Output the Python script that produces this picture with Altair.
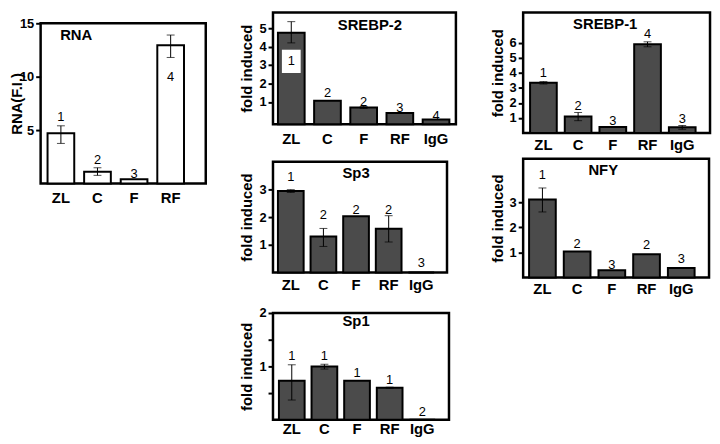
import altair as alt
import pandas as pd

FONT = "Liberation Sans"
DARK = "#4b4b4b"

cats4 = ["ZL", "C", "F", "RF"]
cats5 = ["ZL", "C", "F", "RF", "IgG"]

# RNA panel
rna_val = [4.7, 1.1, 0.4, 12.95]
rna_lo = [3.75, 0.76, None, 11.8]
rna_hi = [5.4, 1.47, None, 13.9]
rna_lab = ["1", "2", "3", "4"]
rna_lab_y = [6.2, 2.15, 0.9, 10.0]

# SREBP-2 panel
s2_val = [4.75, 1.07, 0.7, 0.4, 0.05]
s2_lo = [4.2, None, 0.65, None, None]
s2_hi = [5.35, None, 0.76, None, None]
s2_lab = ["1", "2", "2", "3", "4"]
s2_lab_y = [3.2, 1.47, 1.02, 0.66, 0.22]
s2_box = ["ZL"]
s2_box_lo = [2.57]
s2_box_hi = [3.83]

# SREBP-1 panel
s1_val = [3.33, 1.1, 0.4, 5.89, 0.38]
s1_lo = [3.25, 0.82, None, 5.72, 0.25]
s1_hi = [3.41, 1.36, None, 6.05, 0.5]
s1_lab = ["1", "2", "3", "4", "3"]
s1_lab_y = [3.95, 1.77, 0.8, 6.56, 0.92]

# Sp3 panel
sp3_val = [2.94, 1.3, 2.03, 1.58, 0.0]
sp3_lo = [2.89, 0.94, None, 1.1, None]
sp3_hi = [2.99, 1.59, None, 2.05, None]
sp3_lab = ["1", "2", "2", "2", "3"]
sp3_lab_y = [3.44, 2.06, 2.27, 2.27, 0.33]

# NFY panel
nfy_val = [3.12, 1.04, 0.29, 0.93, 0.38]
nfy_lo = [2.62, None, None, None, None]
nfy_hi = [3.58, None, None, None, None]
nfy_lab = ["1", "2", "3", "2", "3"]
nfy_lab_y = [4.1, 1.33, 0.5, 1.29, 0.74]

# Sp1 panel
sp1_val = [0.73, 1.0, 0.73, 0.6, 0.0]
sp1_lo = [0.37, 0.95, None, 0.59, None]
sp1_hi = [1.03, 1.04, None, 0.61, None]
sp1_lab = ["1", "1", "1", "1", "2"]
sp1_lab_y = [1.19, 1.19, 0.88, 0.74, 0.14]


def panel(title, cats, vals, lo, hi, labs, laby, *, ydom, yticks, ytitle, W, H,
          step, bw, gap, fill, tx, ty, base=0.0, label_pad=6, title_pad=4,
          label_expr=None, box=None):
    n = len(cats)
    df = pd.DataFrame(dict(cat=cats, val=vals, lo=lo, hi=hi, lab=labs, laby=laby))
    xs = alt.Scale(domain=cats, range=[gap, gap + step * (n - 1) + bw],
                   paddingInner=1 - bw / step, paddingOuter=0)
    xax = alt.Axis(title=None, labelAngle=0, ticks=False, domain=False,
                   labelFont=FONT, labelFontSize=15, labelFontWeight="bold",
                   labelColor="black", labelPadding=label_pad)
    yax_kw = dict(title=ytitle, values=yticks, grid=False, domain=False,
                  tickSize=5, tickWidth=2, tickColor="black",
                  labelFont=FONT, labelFontSize=13, labelFontWeight="bold",
                  labelColor="black", labelPadding=2, labelOverlap=False,
                  labelFlush=False,
                  titleFont=FONT, titleFontSize=15, titleFontWeight="bold",
                  titleColor="black", titlePadding=title_pad)
    if label_expr:
        yax_kw["labelExpr"] = label_expr
    yax = alt.Axis(**yax_kw)
    ys = alt.Scale(domain=ydom, nice=False, zero=False)
    X = alt.X("cat:N", scale=xs, sort=cats, axis=xax)
    Xs = alt.X("cat:N", sort=cats, axis=xax)

    def Y(f):
        return alt.Y(f, axis=yax, title=ytitle)

    bc = alt.Chart(df)
    layers = [
        bc.mark_bar(fill=fill, stroke="black", strokeWidth=2).encode(
            x=X, y=alt.Y("val:Q", scale=ys, axis=yax, title=ytitle),
            y2=alt.datum(base)),
    ]
    err = bc.transform_filter("isValid(datum.lo)")
    layers.append(err.mark_rule(color="black", strokeWidth=1).encode(
        x=Xs, y=Y("lo:Q"), y2="hi:Q"))
    layers.append(err.mark_tick(color="black", thickness=1, size=8).encode(
        x=Xs, y=Y("lo:Q")))
    layers.append(err.mark_tick(color="black", thickness=1, size=8).encode(
        x=Xs, y=Y("hi:Q")))
    if box is not None:
        bdf = pd.DataFrame(dict(cat=box[0], blo=box[1], bhi=box[2]))
        layers.append(alt.Chart(bdf).mark_bar(fill="white", width=19).encode(
            x=Xs, y=Y("blo:Q"), y2="bhi:Q"))
    layers.append(bc.mark_text(font=FONT, fontSize=13, color="black", baseline="middle").encode(
        x=Xs, y=Y("laby:Q"), text="lab:N"))
    layers.append(alt.Chart(pd.DataFrame({"t": [title]})).mark_text(
        font=FONT, fontSize=15, fontWeight="bold", color="black",
        baseline="middle", align="center").encode(
        x=alt.value(tx), y=alt.value(ty), text="t:N"))
    return alt.layer(*layers).properties(width=W, height=H)


FI = "fold induced"

rna = panel("RNA", cats4, rna_val, rna_lo, rna_hi, rna_lab, rna_lab_y,
            ydom=[0, 15], yticks=[5, 10, 15], ytitle="RNA(F.I.)", W=167, H=162,
            step=37.0, bw=27, gap=7, fill="white", tx=36, ty=12,
            label_pad=7, title_pad=-5)

s2 = panel("SREBP-2", cats5, s2_val, s2_lo, s2_hi, s2_lab, s2_lab_y,
           ydom=[-0.2, 5.85], yticks=[1, 2, 3, 4, 5], ytitle=FI, W=185, H=113,
           step=36.6, bw=27, gap=5, fill=DARK, tx=98, ty=13, base=-0.2,
           label_pad=8, box=(s2_box, s2_box_lo, s2_box_hi))

sp3 = panel("Sp3", cats5, sp3_val, sp3_lo, sp3_hi, sp3_lab, sp3_lab_y,
            ydom=[0, 4], yticks=[1, 2, 3], ytitle=FI, W=176, H=112,
            step=33, bw=26, gap=5, fill=DARK, tx=84, ty=11, label_pad=5)

sp1 = panel("Sp1", cats5, sp1_val, sp1_lo, sp1_hi, sp1_lab, sp1_lab_y,
            ydom=[0, 2], yticks=[0.5, 1, 1.5, 2], ytitle=FI, W=178, H=108,
            step=33, bw=26, gap=6, fill=DARK, tx=84, ty=8, label_pad=2,
            label_expr="datum.value == 1 ? '1' : datum.value == 2 ? '2' : ''")

s1 = panel("SREBP-1", cats5, s1_val, s1_lo, s1_hi, s1_lab, s1_lab_y,
           ydom=[0, 8], yticks=[1, 2, 3, 4, 5, 6], ytitle=FI, W=189, H=122,
           step=35.1, bw=27, gap=7, fill=DARK, tx=83, ty=12, label_pad=5)

nfy = panel("NFY", cats5, nfy_val, nfy_lo, nfy_hi, nfy_lab, nfy_lab_y,
            ydom=[0, 4.75], yticks=[1, 2, 3], ytitle=FI, W=188, H=120,
            step=35.1, bw=27, gap=6, fill=DARK, tx=81, ty=11, label_pad=4)

spacer = alt.Chart(pd.DataFrame({"a": [0]})).mark_point(opacity=0, size=0).encode(
    x=alt.value(0), y=alt.value(0)).properties(
    width=1, height=1, view=alt.ViewBackground(stroke="transparent"))

left_col = alt.vconcat(spacer, rna, spacing=0)
mid_col = alt.vconcat(s2, sp3, sp1, spacing=11)
right_col = alt.vconcat(s1, nfy, spacing=2)

chart = alt.hconcat(left_col, mid_col, right_col, spacing=31).properties(
    padding={"left": 0, "top": 0, "right": 0, "bottom": 0}
).configure_view(stroke="black", strokeWidth=2.5).configure_axis(labelOverlap=False)

chart.save("out.html", embed_options={"renderer": "svg", "actions": False})
